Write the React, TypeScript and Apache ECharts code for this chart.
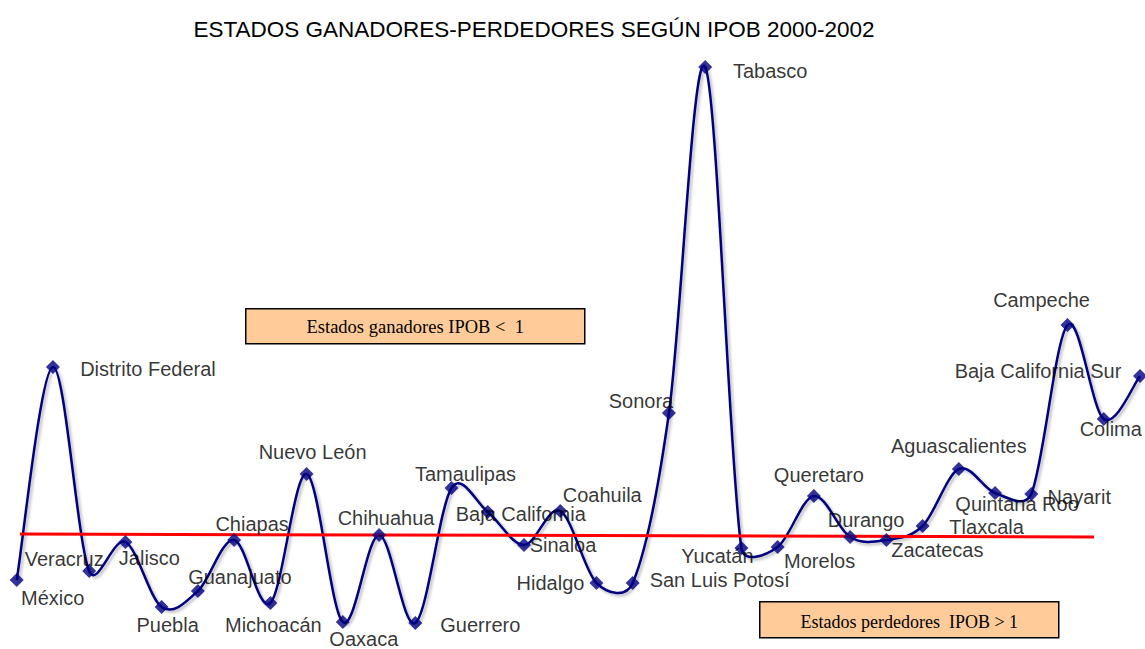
import React, { useEffect, useRef } from "react";
import * as echarts from "echarts";

const states = [
  "México", "Distrito Federal", "Veracruz", "Jalisco", "Puebla", "Guanajuato", "Chiapas", "Michoacán",
  "Nuevo León", "Oaxaca", "Chihuahua", "Guerrero", "Tamaulipas", "Baja California", "Sinaloa", "Coahuila",
  "Hidalgo", "San Luis Potosí", "Sonora", "Tabasco", "Yucatán", "Morelos", "Queretaro", "Durango",
  "Zacatecas", "Tlaxcala", "Aguascalientes", "Quintana Roo", "Nayarit", "Campeche", "Colima", "Baja California Sur",
];

const ipob = [
  0.775, 1.84, 0.82, 0.965, 0.64, 0.72, 0.975, 0.66,
  1.305, 0.565, 1.0, 0.56, 1.235, 1.115, 0.95, 1.12,
  0.76, 0.76, 1.61, 3.34, 0.935, 0.94, 1.195, 0.99,
  0.975, 1.045, 1.33, 1.21, 1.205, 2.05, 1.58, 1.795,
];

// reference line IPOB = 1 (start / end on the category scale)
const refLine = [
  [0.09, 1.005],
  [29.73, 0.99],
];

// label offsets (style) relative to each marker
const labelOffsets = [
  [36, 18], [95, 2], [-25, -12], [24, 16], [6, 18], [42, -14], [18, -16], [3, 22],
  [6, -22], [21, 17], [7, -17], [65, 2], [14, -14], [33, 2], [39, 0], [42, -16],
  [-46, 0], [87, -3], [-28, -12], [65, 4], [-24, 8], [42, 14], [5, -21], [16, -17],
  [51, 10], [64, 1], [0, -23], [22, 11], [48, 3], [-26, -25], [7, 10], [-102, -5],
];

const titleText = "ESTADOS GANADORES-PERDEDORES SEGÚN IPOB 2000-2002";
const boxWin = "Estados ganadores IPOB <  1";
const boxLose = "Estados perdedores  IPOB > 1";

const SANS = "'Liberation Sans', Arial, sans-serif";
const SERIF = "'Liberation Serif', 'Times New Roman', serif";

function clampVec(vx: number, vy: number, maxLen: number) {
  const len = Math.hypot(vx, vy);
  if (len > maxLen && len > 0) {
    const s = maxLen / len;
    return [vx * s, vy * s];
  }
  return [vx, vy];
}

export default function App() {
  const ref = useRef<HTMLDivElement>(null);
  useEffect(() => {
    if (!ref.current) return;
    const chart = echarts.init(ref.current, null, { renderer: "svg" });
    const pts = ipob.map((v, i) => [i, v]);
    chart.setOption({
      animation: false,
      backgroundColor: "#ffffff",
      title: {
        text: titleText,
        left: 529,
        top: 13,
        textAlign: "center",
        textStyle: { fontFamily: SANS, fontSize: 22.5, fontWeight: "normal", color: "#000" },
      },
      grid: { left: 16.7, right: 5, top: 35, bottom: 14 },
      xAxis: { type: "value", min: 0, max: 31, show: false },
      yAxis: { type: "value", min: 0.5, max: 3.5, show: false },
      series: [
        {
          type: "custom",
          data: [0],
          z: 2,
          silent: true,
          renderItem: (params: any, api: any) => {
            const P = pts.map((p) => api.coord(p));
            const t = 1 / 6;
            const k = 0.45;
            let d = `M${P[0][0]},${P[0][1]}`;
            for (let i = 0; i < P.length - 1; i++) {
              const p0 = P[i - 1] || P[i];
              const p1 = P[i];
              const p2 = P[i + 1];
              const p3 = P[i + 2] || P[i + 1];
              const L = Math.hypot(p2[0] - p1[0], p2[1] - p1[1]);
              const a = clampVec((p2[0] - p0[0]) * t, (p2[1] - p0[1]) * t, k * L);
              const b = clampVec((p3[0] - p1[0]) * t, (p3[1] - p1[1]) * t, k * L);
              d += ` C${p1[0] + a[0]},${p1[1] + a[1]} ${p2[0] - b[0]},${p2[1] - b[1]} ${p2[0]},${p2[1]}`;
            }
            return {
              type: "path",
              shape: { pathData: d },
              style: {
                fill: "none",
                stroke: "#000080",
                lineWidth: 2.5,
                shadowColor: "rgba(0,0,0,0.3)",
                shadowBlur: 3,
                shadowOffsetX: 2,
                shadowOffsetY: 2,
              },
            };
          },
        },
        {
          type: "line",
          data: refLine,
          symbol: "none",
          lineStyle: { color: "#ff0000", width: 3 },
          z: 3,
        },
        {
          type: "scatter",
          data: pts.map((p, i) => ({
            value: p,
            label: { offset: labelOffsets[i] },
          })),
          symbol: "diamond",
          symbolSize: [14, 14],
          itemStyle: { color: "#000080" },
          z: 4,
          label: {
            show: true,
            position: "inside",
            align: "center",
            verticalAlign: "middle",
            formatter: (p: any) => states[p.dataIndex],
            fontFamily: SANS,
            fontSize: 20,
            color: "#000",
          },
        },
      ],
      graphic: [
        {
          type: "group",
          left: 245,
          top: 308,
          children: [
            {
              type: "rect",
              shape: { x: 0, y: 0, width: 339, height: 35 },
              style: { fill: "#ffcc99", stroke: "#000", lineWidth: 1.5 },
            },
            {
              type: "text",
              x: 169.5,
              y: 18,
              style: {
                text: boxWin,
                fontFamily: SERIF,
                fontSize: 18.5,
                fill: "#000",
                align: "center",
                verticalAlign: "middle",
              },
            },
          ],
        },
        {
          type: "group",
          left: 759,
          top: 601,
          children: [
            {
              type: "rect",
              shape: { x: 0, y: 0, width: 299, height: 36 },
              style: { fill: "#ffcc99", stroke: "#000", lineWidth: 1.5 },
            },
            {
              type: "text",
              x: 149.5,
              y: 20,
              style: {
                text: boxLose,
                fontFamily: SERIF,
                fontSize: 18,
                fill: "#000",
                align: "center",
                verticalAlign: "middle",
              },
            },
          ],
        },
      ],
    });
    return () => chart.dispose();
  }, []);
  return (
    <div
      ref={ref}
      style={{ position: "absolute", left: 0, top: 0, width: 1145, height: 649 }}
    />
  );
}
